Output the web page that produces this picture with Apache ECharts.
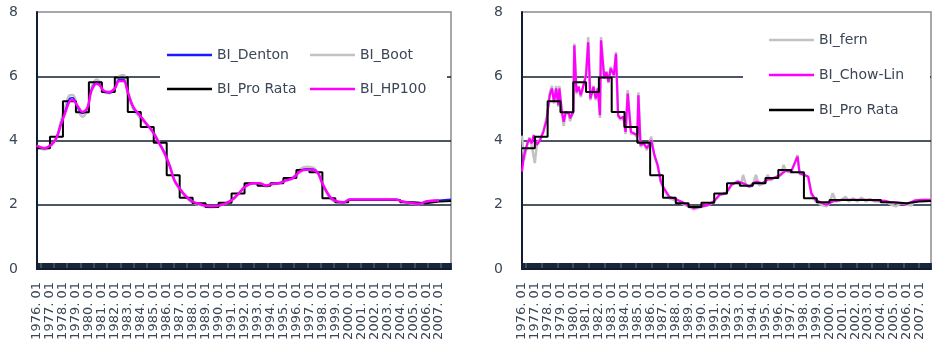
<!DOCTYPE html>
<html>
<head>
<meta charset="utf-8">
<script src="https://cdn.jsdelivr.net/npm/echarts@6/dist/echarts.min.js"></script>
<style>
  html, body { margin: 0; padding: 0; background: #fff; }
  #main { width: 932px; height: 351px; }
</style>
</head>
<body>
<div id="main"></div>
<script>
// monthly categories 1976.01 .. 2007.12
var startYear = 1976, endYear = 2007;
var months = [];
for (var y = startYear; y <= endYear; y++) {
  for (var m = 1; m <= 12; m++) months.push(y + ". " + (m < 10 ? "0" + m : m));
}

// annual pro rata levels (one per year, 1976..2007)
var proRataYearly = [3.76, 4.12, 5.22, 4.88, 5.81, 5.51, 5.96, 4.89, 4.42, 3.93,
  2.92, 2.22, 2.05, 1.93, 2.06, 2.35, 2.67, 2.59, 2.67, 2.83,
  3.08, 3.01, 2.2, 2.08, 2.15, 2.15, 2.15, 2.15, 2.08, 2.05, 2.1, 2.12];

// left panel: [month index, value]
var hp100 = [[0,3.83],[7,3.76],[13,3.86],[18,4.07],[22,4.48],[27,4.95],[30,5.21],[33,5.26],[38,5.05],[42,4.89],
  [47,5.05],[50,5.51],[55,5.77],[58,5.72],[62,5.54],[67,5.51],[72,5.62],[76,5.85],[80,5.85],[84,5.51],
  [89,5.05],[95,4.79],[101,4.53],[107,4.27],[113,3.91],[118,3.6],[123,3.19],[127,2.77],[132,2.51],[138,2.26],
  [144,2.1],[150,2.03],[156,1.97],[163,1.95],[169,1.98],[175,2.05],[181,2.16],[187,2.36],[193,2.57],[200,2.67],
  [206,2.67],[212,2.6],[218,2.65],[224,2.67],[230,2.75],[237,2.83],[243,3.03],[249,3.09],[255,3.09],[260,2.98],
  [264,2.67],[268,2.41],[272,2.21],[278,2.1],[284,2.08],[289,2.16],[300,2.16],[315,2.16],[332,2.16],[338,2.1],
  [347,2.05],[354,2.03],[360,2.1],[372,2.13]];

var denton = [[0,3.82],[7,3.75],[13,3.88],[18,4.1],[22,4.52],[27,5.02],[30,5.3],[33,5.33],[38,5.0],[42,4.84],
  [47,5.05],[50,5.55],[55,5.82],[58,5.75],[62,5.52],[67,5.48],[72,5.62],[76,5.9],[80,5.9],[84,5.5],
  [89,5.02],[95,4.78],[101,4.53],[107,4.28],[113,3.92],[118,3.62],[123,3.2],[127,2.78],[132,2.5],[138,2.24],
  [144,2.08],[150,2.02],[156,1.96],[163,1.94],[169,1.98],[175,2.05],[181,2.17],[187,2.37],[193,2.58],[200,2.67],
  [206,2.66],[212,2.59],[218,2.65],[224,2.67],[230,2.76],[237,2.85],[243,3.05],[249,3.12],[255,3.11],[260,2.98],
  [264,2.66],[268,2.4],[272,2.2],[278,2.09],[284,2.07],[289,2.16],[300,2.16],[315,2.16],[332,2.16],[338,2.1],
  [347,2.05],[354,2.03],[360,2.1],[372,2.14],[383,2.17]];

var boot = [[0,3.85],[7,3.72],[13,3.84],[18,4.1],[22,4.6],[27,5.15],[30,5.4],[33,5.42],[38,4.97],[42,4.74],
  [47,5.0],[50,5.6],[55,5.9],[58,5.83],[62,5.5],[67,5.47],[72,5.65],[76,6.0],[80,6.04],[84,5.45],
  [89,4.98],[95,4.72],[101,4.5],[107,4.3],[113,3.95],[118,3.62],[123,3.18],[127,2.75],[132,2.47],[138,2.22],
  [144,2.06],[150,2.0],[156,1.94],[163,1.92],[169,1.97],[175,2.05],[181,2.18],[187,2.38],[193,2.6],[200,2.68],
  [206,2.65],[212,2.57],[218,2.64],[224,2.68],[230,2.78],[237,2.87],[243,3.1],[249,3.18],[255,3.16],[260,2.98],
  [264,2.62],[268,2.36],[272,2.17],[278,2.07],[284,2.06],[289,2.16],[300,2.16],[315,2.16],[332,2.16],[338,2.1],
  [347,2.04],[354,2.02],[360,2.1],[372,2.14]];

// right panel: [month index, value]
var chowLin = [[0,3.03],[2,3.55],[5,3.91],[7,4.06],[9,3.91],[11,4.17],[14,3.86],[17,4.01],[20,4.27],[23,4.63],
  [26,5.41],[28,5.62],[30,5.2],[32,5.62],[34,5.1],[35,5.62],[37,5.0],[39,4.58],[41,4.89],[44,4.84],
  [45,4.69],[48,4.89],[49,6.96],[51,5.51],[53,5.67],[55,5.41],[58,5.77],[60,6.03],[62,7.06],[64,5.31],
  [67,5.67],[69,5.31],[71,5.62],[73,4.79],[74,7.12],[77,5.93],[79,6.13],[81,5.82],[83,6.24],[86,6.03],
  [88,6.7],[90,4.79],[92,4.69],[95,4.74],[97,4.27],[99,5.46],[102,4.27],[105,4.22],[108,4.17],[109,5.41],
  [111,3.86],[114,3.91],[117,3.76],[121,4.01],[124,3.55],[127,3.24],[130,2.72],[133,2.51],[138,2.25],[142,2.2],
  [149,2.1],[155,1.99],[161,1.89],[167,1.94],[174,1.99],[180,2.12],[185,2.31],[191,2.36],[196,2.62],[202,2.72],
  [207,2.67],[213,2.57],[219,2.72],[225,2.67],[230,2.78],[236,2.83],[242,2.93],[247,3.06],[252,3.03],[258,3.5],
  [260,2.98],[264,2.93],[268,2.88],[271,2.36],[275,2.15],[280,2.07],[285,2.0],[291,2.1],[299,2.15],[308,2.15],
  [324,2.15],[340,2.12],[346,2.07],[355,2.05],[361,2.03],[368,2.13],[374,2.15],[383,2.15]];

var fern = [[0,4.15],[2,3.4],[5,3.85],[7,4.1],[9,3.85],[12,3.3],[14,3.9],[17,4.05],[20,4.3],[23,4.7],
  [26,5.5],[28,5.7],[30,5.15],[32,5.7],[34,5.05],[35,5.7],[37,4.95],[39,4.45],[41,4.9],[44,4.8],
  [45,4.6],[48,4.9],[49,7.02],[51,5.45],[53,5.7],[55,5.35],[58,5.8],[60,6.05],[62,7.22],[64,5.25],
  [67,5.7],[69,5.25],[71,5.65],[73,4.7],[74,7.22],[77,5.95],[79,6.15],[81,5.8],[83,6.3],[86,6.05],
  [88,6.75],[90,4.75],[92,4.65],[95,4.7],[97,4.2],[99,5.57],[102,4.2],[105,4.2],[108,4.1],[109,5.5],
  [111,3.8],[114,3.9],[117,3.7],[121,4.12],[124,3.5],[127,3.2],[130,2.7],[133,2.45],[138,2.2],[142,2.15],
  [149,2.05],[155,1.95],[161,1.86],[167,1.92],[174,1.98],[180,2.1],[185,2.3],[191,2.35],[196,2.6],[202,2.75],
  [205,2.6],[207,2.93],[210,2.6],[213,2.55],[216,2.6],[219,2.93],[222,2.6],[225,2.65],[228,2.7],[230,2.93],
  [233,2.75],[236,2.85],[242,2.9],[245,3.24],[247,3.05],[252,3.0],[258,3.55],[260,2.95],[264,2.95],[268,2.85],
  [271,2.3],[275,2.1],[280,2.0],[285,1.95],[288,2.05],[291,2.36],[294,2.1],[299,2.15],[303,2.25],[306,2.1],
  [310,2.2],[314,2.1],[318,2.22],[322,2.1],[326,2.18],[330,2.1],[340,2.1],[346,2.0],[350,1.95],[355,2.05],
  [361,2.0],[365,1.98],[368,2.15],[374,2.15],[383,2.15]];

// step line points: one per January plus the last month
var proRata = proRataYearly.map(function (v, k) { return [k * 12, v]; });
proRata.push([months.length - 1, proRataYearly[proRataYearly.length - 1]]);

var navy = "#0f1e33";
var textColor = "#3b4656";
var font = "DejaVu Sans";

function xAxisFor(gridIndex) {
  return {
    type: "category",
    gridIndex: gridIndex,
    data: months,
    boundaryGap: false,
    axisLine: { show: true, onZero: false, lineStyle: { color: navy, width: 2 } },
    axisTick: { show: true, inside: true, length: 6, interval: 0, lineStyle: { color: navy, width: 1.6 } },
    axisLabel: {
      rotate: 90,
      margin: 13,
      interval: function (i) { return i % 12 === 0; },
      color: textColor,
      fontFamily: font,
      fontSize: 13
    },
    splitLine: { show: false }
  };
}

function yAxisFor(gridIndex) {
  return {
    type: "value",
    gridIndex: gridIndex,
    min: 0,
    max: 8,
    interval: 2,
    axisLine: { show: true, lineStyle: { color: navy, width: 2 } },
    axisTick: { show: false },
    axisLabel: { margin: 19, color: textColor, fontFamily: font, fontSize: 14 },
    splitLine: { show: true, showMaxLine: false, lineStyle: { color: navy, width: 1.6 } }
  };
}

function line(name, data, color, width, axis, extra) {
  var s = {
    type: "line",
    name: name,
    data: data,
    xAxisIndex: axis,
    yAxisIndex: axis,
    symbol: "none",
    lineStyle: { color: color, width: width },
    itemStyle: { color: color }
  };
  for (var k in extra) s[k] = extra[k];
  return s;
}

var legendText = { color: textColor, fontFamily: font, fontSize: 14, lineHeight: 14 };

function legendCol(left, top, gap, names) {
  return {
    orient: "vertical", left: left, top: top, padding: 0, itemGap: gap,
    icon: "rect", itemWidth: 45, itemHeight: 2.5,
    textStyle: legendText, data: names, z: 5
  };
}

var chart = echarts.init(document.getElementById("main"));
var option = {
  animation: false,
  grid: [
    { left: 37, top: 12, width: 414, height: 257, show: true, borderColor: "#8c8c8c", borderWidth: 1.5 },
    { left: 522, top: 12, width: 409, height: 257, show: true, borderColor: "#8c8c8c", borderWidth: 1.5 }
  ],
  xAxis: [xAxisFor(0), xAxisFor(1)],
  yAxis: [yAxisFor(0), yAxisFor(1)],
  // white legend boxes hiding the gridline at 6
  graphic: [
    { type: "rect", z: 3, shape: { x: 160, y: 22, width: 287, height: 100 }, style: { fill: "#fff" } },
    { type: "rect", z: 3, shape: { x: 743, y: 20, width: 187, height: 110 }, style: { fill: "#fff" } }
  ],
  legend: [
    legendCol(167, 48, 20, ["BI_Denton", "BI_Pro Rata"]),
    legendCol(310, 48, 20, ["BI_Boot", "BI_HP100"]),
    legendCol(769, 33, 21, ["BI_fern", "BI_Chow-Lin", "BI_Pro Rata"])
  ],
  series: [
    line("BI_Boot", boot, "#c2c2c2", 2.5, 0, { smooth: 0.4 }),
    line("BI_Denton", denton, "#1a1aff", 1.5, 0, { smooth: 0.4 }),
    line("BI_Pro Rata", proRata, "#000000", 2, 0, { step: "end" }),
    line("BI_HP100", hp100, "#ff00ff", 2.5, 0, { smooth: 0.4 }),
    line("BI_fern", fern, "#c2c2c2", 2.5, 1, {}),
    line("BI_Chow-Lin", chowLin, "#ff00ff", 2.2, 1, {}),
    line("BI_Pro Rata", proRata, "#000000", 2, 1, { step: "end" })
  ]
};
chart.setOption(option);
</script>
</body>
</html>
